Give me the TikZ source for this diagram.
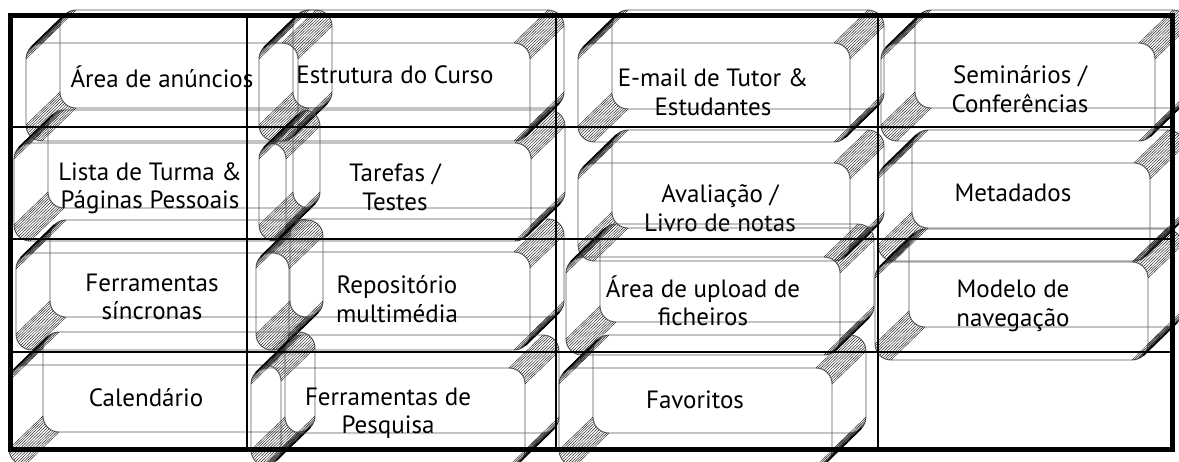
\documentclass[tikz,border=0pt]{standalone}
\usepackage{fontspec}
\setmainfont{PT Sans}
\newcommand\xbox[8]{%
  \draw[face] (#2,#3-33) rectangle (#4+34,#5);
  \draw[face] (#2-34,#3) rectangle (#4,#5+33);
  \foreach \cx/\cy/\aa in {#2+16/#3-17/180, #4+18/#3-17/270, #2+16/#5-16/90, #4+18/#5-16/0}{
    \foreach \k in {0,...,12}{
      \pgfmathsetmacro\ang{\aa+\k*90/12}
      \draw[gen] ({\cx+16*cos(\ang)},{\cy+16*sin(\ang)}) -- ++(-34,33);
    }
  }
  \draw[sil] ({#2+16-11.3},{#3-17-11.3}) -- ++(-34,33);
  \draw[sil] ({#4+18+11.3},{#5-16+11.3}) -- ++(-34,33);
  \node[lbl] (#1) at (#7,#8) {#6};
}
\begin{document}
\begin{tikzpicture}[x=1pt,y=-1pt,
  face/.style={draw=black!65, line width=0.9pt, rounded corners=16pt},
  gen/.style={draw=black!85, line width=0.45pt},
  sil/.style={draw=black, line width=1.6pt},
  lbl/.style={align=center, font=\fontsize{25}{28.5}\selectfont, inner sep=0pt},
  gridline/.style={line width=2pt},
  frameline/.style={line width=5pt}]
\useasboundingbox (0,0) rectangle (1179,461);
\clip (0,0) rectangle (1179,461);
\fill[white] (0,0) rectangle (1179,461);
% row 1
\xbox{area}{60}{43}{298}{108}{Área de anúncios}{162}{77}
\xbox{estrutura}{293}{43}{530}{108}{Estrutura do Curso}{395}{75}
\xbox{email}{612}{43}{850}{109}{E-mail de Tutor \&\\Estudantes}{713}{92}
\xbox{seminarios}{915}{43}{1155}{108}{Seminários /\\Conferências}{1020}{89}
% row 2
\xbox{lista}{48}{143}{286}{208}{Lista de Turma \&\\Páginas Pessoais}{150}{188}
\xbox{tarefas}{293}{143}{531}{208}{Tarefas /\\Testes}{395}{187}
\xbox{avaliacao}{612}{163}{850}{228}{Avaliação /\\Livro de notas}{720}{208}
\xbox{metadados}{912}{163}{1150}{228}{Metadados}{1013}{193}
% row 3
\xbox{fsinc}{50}{253}{289}{317}{Ferramentas\\síncronas}{152}{297}
\xbox{repos}{290}{252}{530}{317}{Repositório\\multimédia}{397}{299}
\xbox{upload}{600}{257}{840}{322}{Área de upload de\\ficheiros}{703}{301}
\xbox{modelo}{909}{262}{1148}{327}{Modelo de\\navegação}{1013}{306}
% row 4
\xbox{calendario}{43}{365}{281}{432}{Calendário}{146}{398}
\xbox{fpesq}{285}{368}{525}{433}{Ferramentas de\\Pesquisa}{388}{413}
\xbox{favoritos}{593}{368}{832}{433}{Favoritos}{695}{400}
% table
\draw[gridline] (247,15) -- (247,449);
\draw[gridline] (556,15) -- (556,449);
\draw[gridline] (878,15) -- (878,449);
\draw[gridline] (10,127) -- (1172,127);
\draw[gridline] (10,239) -- (1172,239);
\draw[gridline] (10,352) -- (1172,352);
\draw[frameline] (10,15) rectangle (1172,449);
\end{tikzpicture}
\end{document}
